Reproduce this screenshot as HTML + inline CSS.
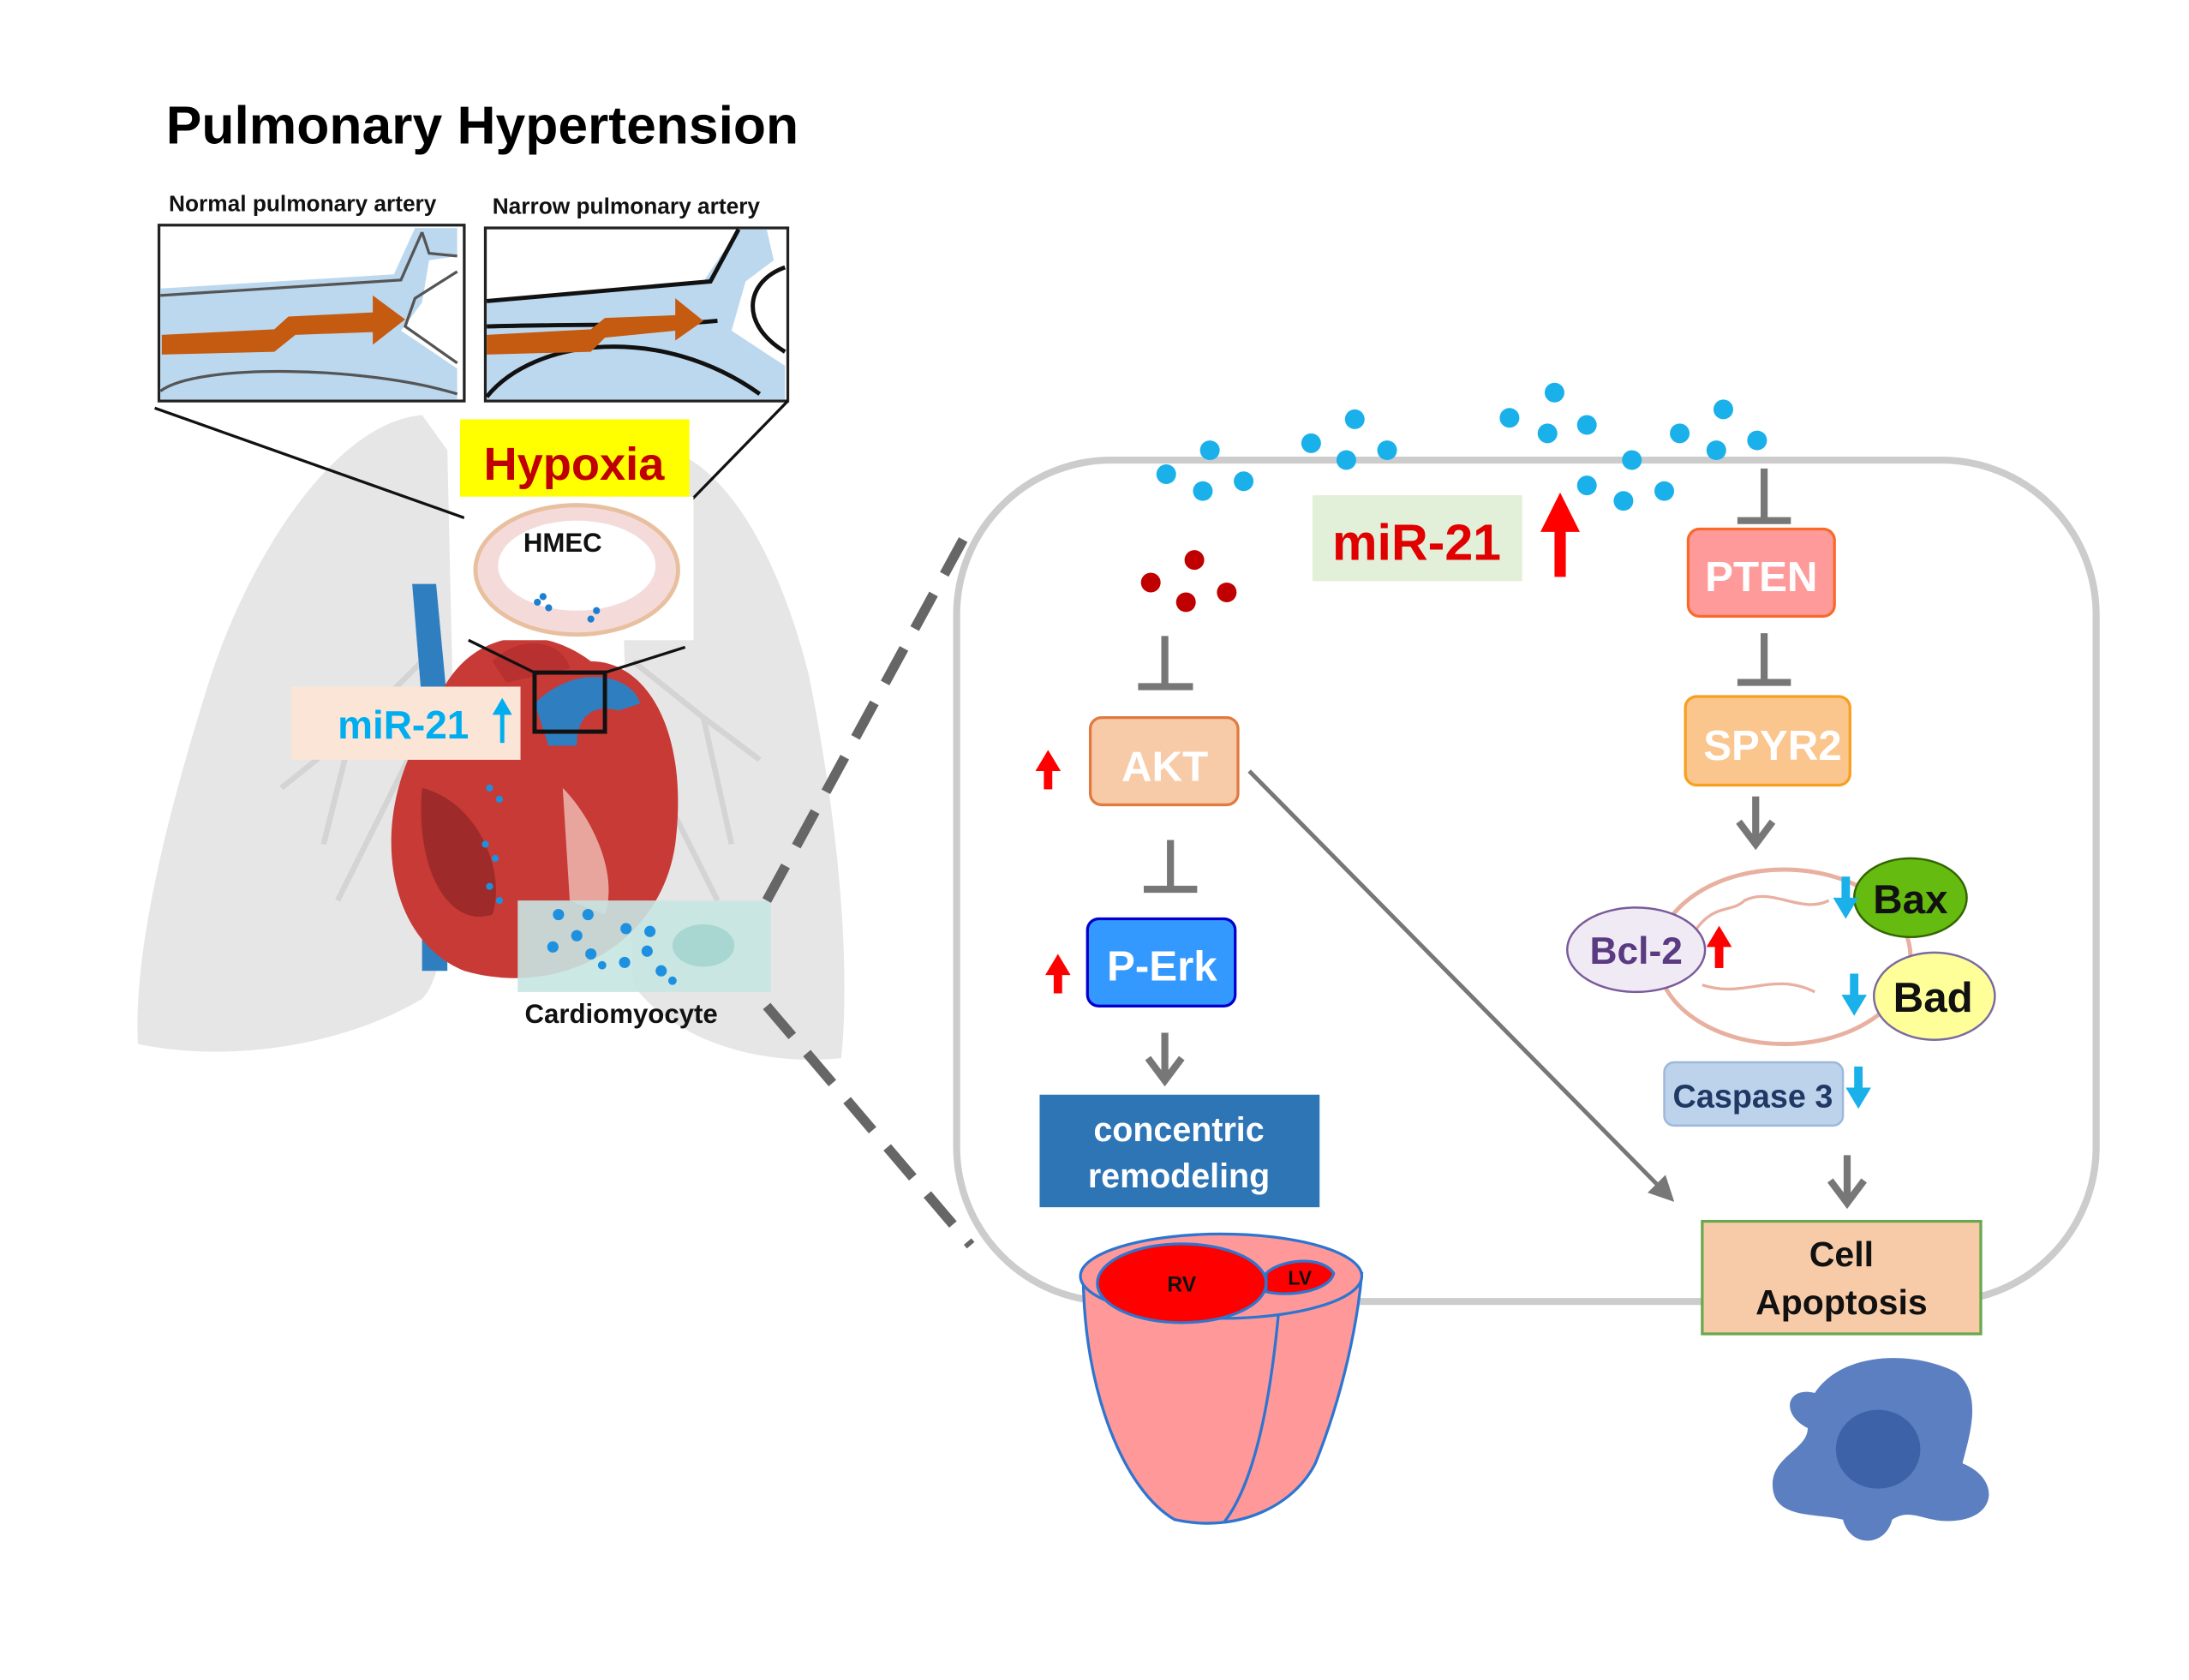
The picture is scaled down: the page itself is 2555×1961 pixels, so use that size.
<!DOCTYPE html>
<html><head><meta charset="utf-8"><style>
html,body{margin:0;padding:0;background:#fff;}
svg{display:block;}
text{font-family:"Liberation Sans",sans-serif;font-weight:bold;}
</style></head><body>
<svg width="2555" height="1961" viewBox="0 0 1556 1194" preserveAspectRatio="none" xmlns="http://www.w3.org/2000/svg">
<defs>
<marker id="ah" markerWidth="6" markerHeight="6" refX="5" refY="3" orient="auto" markerUnits="strokeWidth"><path d="M0,0 L6,3 L0,6 z" fill="#777"/></marker>
</defs>
<!-- lungs -->
<path d="M300,295 C240,300 180,390 150,480 C115,590 95,680 98,742 C160,755 240,745 300,710 C320,690 325,600 322,500 L318,320 Z" fill="#e6e6e6"/>
<path d="M440,320 C500,300 550,380 575,480 C595,580 605,680 598,752 C540,758 480,740 450,700 Z" fill="#e6e6e6"/>
<g stroke="#d4d4d4" stroke-width="4" fill="none">
<path d="M300,470 L250,520 L200,560 M250,520 L230,600 M300,520 L240,640"/>
<path d="M450,470 L500,510 L540,540 M500,510 L520,600 M460,540 L510,640"/>
</g>
<!-- title -->
<text x="118" y="102" font-size="38" fill="#000">Pulmonary Hypertension</text>
<text x="120" y="150" font-size="16" fill="#111">Normal pulmonary artery</text>
<text x="350" y="152" font-size="16" fill="#111">Narrow pulmonary artery</text>
<!-- artery boxes -->
<rect x="113" y="160" width="217" height="125" fill="#fff" stroke="#222" stroke-width="2"/>
<path d="M114,205 L280,195 L295,162 L325,162 L325,182 L305,185 L300,215 L285,235 L300,245 L325,262 L325,284 L114,284 Z" fill="#bcd8ef"/>
<path d="M114,210 L285,199 L300,165 M300,165 L305,180 L325,182 M325,193 L295,212 L288,232 L325,258 M114,278 C140,258 260,260 325,280" stroke="#555" stroke-width="2" fill="none"/>
<path d="M115,238 L195,234 L205,225 L265,222 L265,210 L288,227 L265,245 L265,236 L210,238 L195,250 L115,252 Z" fill="#c55a11"/>
<rect x="345" y="162" width="215" height="123" fill="#fff" stroke="#222" stroke-width="2"/>
<path d="M346,215 L500,200 L525,163 L545,163 L550,185 L530,200 L520,235 L558,260 L558,284 L346,284 Z" fill="#bcd8ef"/>
<path d="M346,214 L505,200 L525,163 M346,232 C420,230 470,232 510,228 M346,282 C380,240 470,230 540,280 M558,190 C530,200 525,230 558,250" stroke="#111" stroke-width="3" fill="none"/>
<path d="M346,238 L420,234 L430,226 L480,224 L480,212 L500,228 L480,242 L480,235 L430,240 L420,250 L346,252 Z" fill="#c55a11"/>
<line x1="110" y1="290" x2="330" y2="368" stroke="#111" stroke-width="2"/>
<line x1="560" y1="285" x2="485" y2="362" stroke="#111" stroke-width="2"/>
<!-- heart -->
<path d="M293,415 L310,415 L318,500 L318,690 L300,690 L300,500 Z" fill="#2f7fc0"/>
<path d="M290,540 C265,600 280,670 330,690 C400,710 470,670 480,600 C490,520 460,470 420,470 C380,440 330,450 310,500 Z" fill="#c73a35"/>
<path d="M300,560 C295,620 320,660 350,650 C360,620 340,570 300,560 Z" fill="#9e2a2a"/>
<path d="M400,560 C420,580 440,620 430,650 L405,640 Z" fill="#e7a59e"/>
<path d="M380,500 C410,470 450,480 455,500 L440,505 C420,500 410,510 410,530 L390,530 Z" fill="#2f7fc0"/>
<path d="M350,470 C370,450 400,455 405,475 L360,485 Z" fill="#b83030"/>
<!-- hypoxia -->
<rect x="327" y="298" width="163" height="55" fill="#ffff00"/>
<text x="408" y="341" font-size="33" fill="#c00000" text-anchor="middle">Hypoxia</text>
<rect x="330" y="353" width="163" height="102" fill="#fff"/>
<ellipse cx="410" cy="405" rx="72" ry="46" fill="#f5dada" stroke="#e8c0a0" stroke-width="3"/>
<ellipse cx="410" cy="402" rx="56" ry="32" fill="#fff"/>
<text x="400" y="392" font-size="19" fill="#111" text-anchor="middle">HMEC</text>
<g fill="#1e7fd0"><circle cx="382" cy="428" r="2.5"/><circle cx="390" cy="432" r="2.5"/><circle cx="386" cy="424" r="2.5"/><circle cx="424" cy="434" r="2.5"/><circle cx="420" cy="440" r="2.5"/></g>
<line x1="333" y1="455" x2="380" y2="478" stroke="#111" stroke-width="2"/>
<line x1="487" y1="460" x2="430" y2="478" stroke="#111" stroke-width="2"/>
<rect x="380" y="478" width="50" height="42" fill="none" stroke="#111" stroke-width="3"/>
<g fill="#1e90e0"><circle cx="348" cy="560" r="2.5"/><circle cx="355" cy="568" r="2.5"/><circle cx="345" cy="600" r="2.5"/><circle cx="352" cy="610" r="2.5"/><circle cx="348" cy="630" r="2.5"/><circle cx="355" cy="640" r="2.5"/></g>
<!-- miR-21 left -->
<rect x="207" y="488" width="163" height="52" fill="#fbe5d6"/>
<text x="240" y="525" font-size="28" fill="#00aeef">miR-21</text>
<line x1="357" y1="528" x2="357" y2="505" stroke="#00aeef" stroke-width="3"/>
<path d="M350,508 L357,496 L364,508 Z" fill="#00aeef"/>
<!-- cardiomyocyte -->
<rect x="368" y="640" width="180" height="65" fill="#c7e6e2" opacity="0.9"/>
<ellipse cx="500" cy="672" rx="22" ry="15" fill="#a8d6d0"/>
<g fill="#1e90e0"><circle cx="397" cy="650" r="4"/><circle cx="418" cy="650" r="4"/><circle cx="410" cy="665" r="4"/><circle cx="393" cy="673" r="4"/><circle cx="420" cy="678" r="4"/><circle cx="428" cy="686" r="3"/><circle cx="445" cy="660" r="4"/><circle cx="462" cy="662" r="4"/><circle cx="460" cy="676" r="4"/><circle cx="444" cy="684" r="4"/><circle cx="470" cy="690" r="4"/><circle cx="478" cy="697" r="3"/></g>
<text x="373" y="727" font-size="19" fill="#111">Cardiomyocyte</text>
<!-- dashed -->
<line x1="545" y1="640" x2="692" y2="370" stroke="#666" stroke-width="7" stroke-dasharray="28,16"/>
<line x1="545" y1="715" x2="690" y2="885" stroke="#666" stroke-width="7" stroke-dasharray="28,16"/>
<!-- cell -->
<rect x="680" y="327" width="810" height="598" rx="110" fill="none" stroke="#cccccc" stroke-width="5"/>
<g fill="#1ab0ea">
<circle cx="829" cy="337" r="7"/><circle cx="860" cy="320" r="7"/><circle cx="855" cy="349" r="7"/><circle cx="884" cy="342" r="7"/>
<circle cx="932" cy="315" r="7"/><circle cx="963" cy="298" r="7"/><circle cx="957" cy="327" r="7"/><circle cx="986" cy="320" r="7"/>
<circle cx="1073" cy="297" r="7"/><circle cx="1105" cy="279" r="7"/><circle cx="1100" cy="308" r="7"/><circle cx="1128" cy="302" r="7"/>
<circle cx="1160" cy="327" r="7"/><circle cx="1128" cy="345" r="7"/><circle cx="1154" cy="356" r="7"/><circle cx="1183" cy="349" r="7"/>
<circle cx="1194" cy="308" r="7"/><circle cx="1225" cy="291" r="7"/><circle cx="1220" cy="320" r="7"/><circle cx="1249" cy="313" r="7"/>
</g>
<g fill="#c00000"><circle cx="818" cy="414" r="7"/><circle cx="849" cy="398" r="7"/><circle cx="843" cy="428" r="7"/><circle cx="872" cy="421" r="7"/></g>
<rect x="933" y="352" width="149" height="61" fill="#e2efd9"/>
<text x="1007" y="398" font-size="36" fill="#e00000" text-anchor="middle">miR-21</text>
<rect x="1105" y="375" width="8" height="35" fill="#f00"/>
<path d="M1095,378 L1109,350 L1123,378 Z" fill="#f00"/>
<g stroke="#777" stroke-width="5" fill="none">
<line x1="1254" y1="333" x2="1254" y2="370"/><line x1="1235" y1="370" x2="1273" y2="370"/>
<line x1="1254" y1="450" x2="1254" y2="485"/><line x1="1235" y1="485" x2="1273" y2="485"/>
<line x1="828" y1="452" x2="828" y2="488"/><line x1="809" y1="488" x2="848" y2="488"/>
<line x1="832" y1="597" x2="832" y2="632"/><line x1="813" y1="632" x2="851" y2="632"/>
<path d="M1248,566 L1248,598 M1236,584 L1248,600 L1260,584"/>
<path d="M828,734 L828,766 M816,752 L828,768 L840,752"/>
<path d="M1313,821 L1313,853 M1301,839 L1313,855 L1325,839"/>
</g>
<rect x="1200" y="376" width="104" height="62" rx="8" fill="#ff9a9a" stroke="#f86a2a" stroke-width="2"/>
<text x="1252" y="420" font-size="30" fill="#fff" text-anchor="middle">PTEN</text>
<rect x="1198" y="495" width="117" height="63" rx="8" fill="#fbc58e" stroke="#f7a020" stroke-width="2"/>
<text x="1260" y="540" font-size="30" fill="#fff" text-anchor="middle">SPYR2</text>
<ellipse cx="1268" cy="680" rx="90" ry="62" fill="#fff" stroke="#e8b0a0" stroke-width="3"/>
<path d="M1200,670 C1215,640 1230,650 1240,640 C1260,630 1280,650 1300,640 M1210,700 C1240,710 1260,690 1290,705" stroke="#e8b0a0" stroke-width="2" fill="none"/>
<ellipse cx="1163" cy="675" rx="49" ry="30" fill="#efeaf4" stroke="#7a5a9a" stroke-width="1.5"/>
<text x="1163" y="685" font-size="27" fill="#5a3a80" text-anchor="middle">Bcl-2</text>
<ellipse cx="1358" cy="638" rx="40" ry="28" fill="#66bb11" stroke="#336600" stroke-width="1.5"/>
<text x="1358" y="649" font-size="29" fill="#111" text-anchor="middle">Bax</text>
<ellipse cx="1375" cy="708" rx="43" ry="31" fill="#ffff99" stroke="#7a6aa0" stroke-width="1.5"/>
<text x="1374" y="719" font-size="30" fill="#111" text-anchor="middle">Bad</text>
<g fill="#1ab0ea">
<rect x="1309" y="623" width="6" height="18"/><path d="M1303,638 L1312,653 L1321,638 Z"/>
<rect x="1315" y="692" width="6" height="18"/><path d="M1309,707 L1318,722 L1327,707 Z"/>
<rect x="1318" y="758" width="6" height="18"/><path d="M1312,773 L1321,788 L1330,773 Z"/>
</g>
<g fill="#f00">
<rect x="1219" y="670" width="6" height="18"/><path d="M1213,673 L1222,658 L1231,673 Z"/>
<rect x="742" y="545" width="6" height="16"/><path d="M736,548 L745,533 L754,548 Z"/>
<rect x="749" y="690" width="6" height="16"/><path d="M743,693 L752,678 L761,693 Z"/>
</g>
<rect x="1183" y="755" width="127" height="45" rx="7" fill="#bdd3ec" stroke="#9db8da" stroke-width="1.5"/>
<text x="1246" y="787" font-size="23" fill="#1f3864" text-anchor="middle">Caspase 3</text>
<rect x="1210" y="868" width="198" height="80" fill="#f8cba8" stroke="#6aa84f" stroke-width="2"/>
<text x="1309" y="900" font-size="25" fill="#111" text-anchor="middle">Cell</text>
<text x="1309" y="934" font-size="25" fill="#111" text-anchor="middle">Apoptosis</text>
<g fill="#5b7fc0">
<path d="M1290,990 C1310,960 1360,960 1390,975 C1410,990 1400,1020 1395,1040 C1420,1050 1420,1075 1395,1080 C1370,1085 1360,1070 1345,1080 C1340,1100 1315,1100 1310,1080 C1290,1075 1260,1080 1260,1055 C1260,1035 1285,1030 1285,1015 C1265,1005 1270,985 1290,990 Z"/>
</g>
<ellipse cx="1335" cy="1030" rx="30" ry="28" fill="#3d62a8"/>
<rect x="775" y="510" width="105" height="62" rx="8" fill="#f8cba8" stroke="#e07a40" stroke-width="2"/>
<text x="828" y="555" font-size="30" fill="#fff" text-anchor="middle">AKT</text>
<rect x="773" y="653" width="105" height="62" rx="8" fill="#3399ff" stroke="#0000cc" stroke-width="2"/>
<text x="826" y="697" font-size="30" fill="#fff" text-anchor="middle">P-Erk</text>
<line x1="888" y1="548" x2="1188" y2="852" stroke="#777" stroke-width="3" marker-end="url(#ah)"/>
<rect x="739" y="778" width="199" height="80" fill="#2e75b6"/>
<text x="838" y="811" font-size="24" fill="#fff" text-anchor="middle">concentric</text>
<text x="838" y="844" font-size="24" fill="#fff" text-anchor="middle">remodeling</text>
<path d="M770,905 C770,990 800,1060 835,1080 C880,1090 920,1070 935,1040 C955,990 965,940 968,905 Z" fill="#ff9999" stroke="#2e75d0" stroke-width="2"/>
<path d="M910,920 C905,980 895,1050 870,1082" stroke="#2e75d0" stroke-width="2" fill="none"/>
<ellipse cx="868" cy="907" rx="100" ry="30" fill="#ff9999" stroke="#2e75d0" stroke-width="2"/>
<ellipse cx="840" cy="912" rx="60" ry="28" fill="#ff0000" stroke="#2e75d0" stroke-width="2"/>
<path d="M900,905 C910,895 940,892 948,905 C945,918 915,922 900,918 Z" fill="#ff0000" stroke="#2e75d0" stroke-width="2"/>
<text x="840" y="918" font-size="15" fill="#111" text-anchor="middle">RV</text>
<text x="924" y="913" font-size="14" fill="#111" text-anchor="middle">LV</text>
</svg>
</body></html>
